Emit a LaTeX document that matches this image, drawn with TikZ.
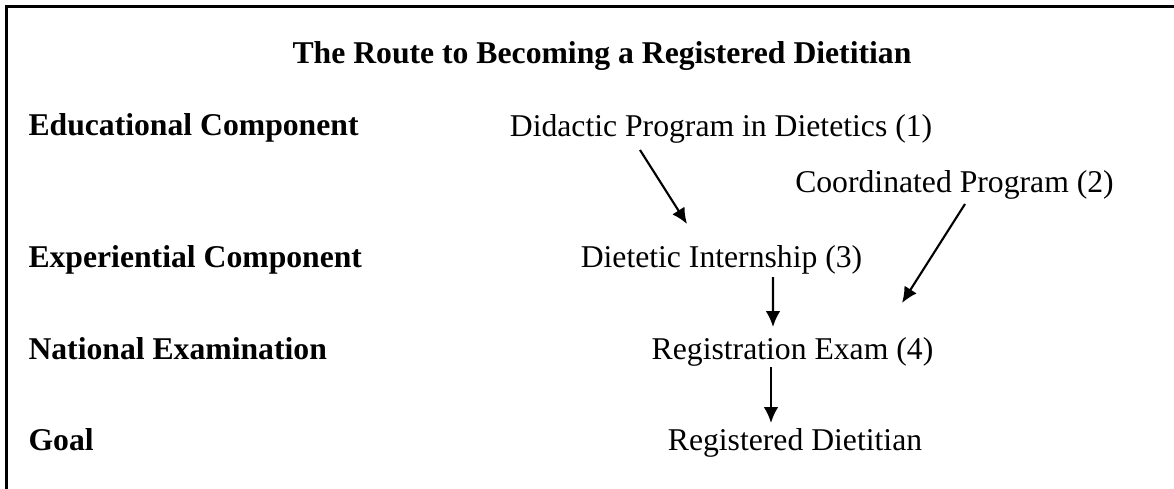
\documentclass[tikz,border=0pt]{standalone}
\usepackage{fontspec}
\setmainfont{Liberation Serif}
\usetikzlibrary{arrows.meta,calc}
\tikzset{
  heading/.style={font=\fontsize{12}{14}\selectfont\bfseries,inner sep=0pt,anchor=base},
  rowlabel/.style={font=\fontsize{12}{14}\selectfont\bfseries,inner sep=0pt,anchor=base west},
  stage/.style={font=\fontsize{12}{14}\selectfont,inner sep=0pt,anchor=base},
  flow/.style={line width=0.8pt,-{Latex[length=6pt,width=5.5pt]}}
}
\begin{document}
\begin{tikzpicture}[x=0.3788pt,y=-0.3788pt]
        \useasboundingbox (0,0) rectangle (1174,489);
        % frame (only top and left edges are in view)
        \draw[line width=1.1pt] (1174,6.5) -- (6.5,6.5) -- (6.5,489);
        \node[heading] (title) at (602,64) {The Route to Becoming a Registered Dietitian};
        % row labels
        \node[rowlabel] (educ) at (28,136) {Educational Component};
        \node[rowlabel] (exper) at (28,267) {Experiential Component};
        \node[rowlabel] (natl) at (28,359) {National Examination};
        \node[rowlabel] (goal) at (28,450) {Goal};
        % stages
        \node[stage] (didactic) at (721,137) {Didactic Program in Dietetics (1)};
        \node[stage] (coord) at (954.5,193) {Coordinated Program (2)};
        \node[stage] (intern) at (721.5,267) {Dietetic Internship (3)};
        \node[stage] (exam) at (792.5,359) {Registration Exam (4)};
        \node[stage] (rd) at (795,450) {Registered Dietitian};
        % arrows
        \draw[flow] ($(didactic.base)+(-81,13)$) -- ($(intern.base)+(-34.5,-43)$);
        \draw[flow] ($(coord.base)+(10.5,11)$) -- ($(exam.base)+(109.5,-56)$);
        \draw[flow] ($(intern.base)+(51.5,10)$) -- ($(exam.base)+(-19.5,-32)$);
        \draw[flow] ($(exam.base)+(-21.5,8)$) -- ($(rd.base)+(-24,-27)$);
\end{tikzpicture}
\end{document}
